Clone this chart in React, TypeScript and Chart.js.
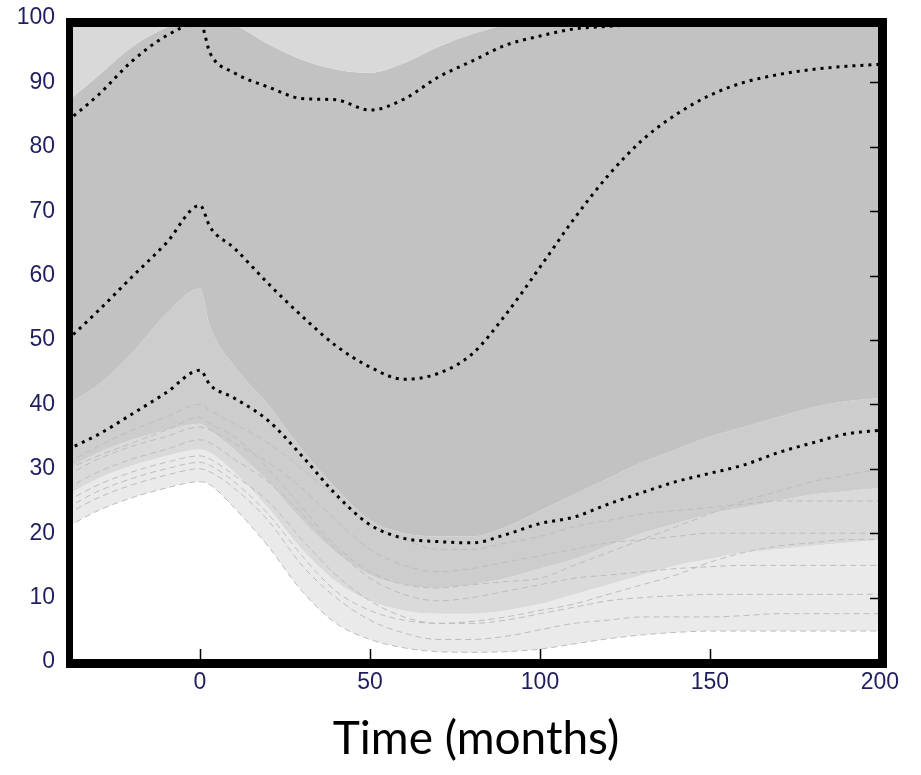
import React, { useEffect, useRef } from 'react';
import { Chart, registerables } from 'chart.js';

Chart.register(...registerables);

// ---- data ----
const xs = [-39, -30, -20, -10, 0, 3, 10, 20, 30, 40, 50, 60, 70, 80, 90, 100, 110, 120, 130, 140, 150, 160, 170, 180, 190, 200];

// black dotted percentile curves
const upperPct = [84, 88, 93.3, 97.2, 99.3, 94.5, 91.5, 89.3, 87.5, 87.3, 85.7, 87.4, 90.8, 93.3, 95.8, 97.2, 98.3, 98.7, 99, 99.2, 99.2, 99.2, 99.2, 99.2, 99.2, 99.2];
const midPct = [50, 54.5, 59.8, 65, 70.9, 67.5, 64.3, 58.8, 53.7, 49.1, 45.8, 43.9, 44.8, 47.8, 54, 61.3, 68.8, 75.5, 81, 85, 88, 90, 91.2, 92, 92.5, 92.8];
const lowPct = [33, 35.3, 38.5, 41.8, 45.3, 43, 41, 37.5, 32, 26, 21.3, 19.2, 18.7, 18.5, 19.8, 21.5, 22.5, 24.5, 26.3, 28, 29.3, 30.6, 32.5, 34, 35.4, 36];

// envelopes of the bundle of grey trajectories
const denseTop = [87, 91, 95.5, 98.5, 100, 100, 99, 96, 93.5, 92, 91.5, 93, 95.5, 97.5, 99, 100, 100, 100, 100, 100, 100, 100, 100, 100, 100, 100];
const denseBottom = [40, 43, 48, 54, 58, 52, 46, 40, 33, 27, 22, 20, 19.5, 19.5, 21, 23.5, 26, 28.5, 31, 33, 35, 36.5, 38, 39.5, 40.5, 41];
const medBottom = [30, 32.5, 34.5, 36, 37, 36, 33, 28, 22, 17, 13.5, 12, 11.5, 12, 13, 14.5, 16, 18, 20, 21.5, 23, 24, 25, 26, 26.5, 27];
const lightMid = [26, 28.5, 30.5, 32, 33, 32.5, 29.5, 24, 17.5, 12.5, 9.5, 8, 7.5, 7.5, 8, 9, 10.5, 12, 13.5, 15, 16, 17, 17.5, 18, 18.5, 19];

// individual sparse grey dashed trajectories
const sparse1 = [21, 23.5, 25.5, 27, 28, 27.5, 24, 18, 11, 6, 3.5, 2.2, 1.6, 1.5, 1.6, 2, 2.8, 3.6, 4.2, 4.6, 4.8, 4.8, 4.8, 4.8, 4.8, 4.8];
const sparse2 = [23, 25.5, 27.5, 29, 30, 29.5, 27, 22, 15, 10, 6.5, 4.5, 3.5, 3.5, 4, 5, 6, 6.5, 7, 7, 7, 7.2, 7.5, 7.5, 7.5, 7.5];
const sparse3 = [25, 27.5, 29.5, 31, 32, 31.5, 29, 25, 19, 13.5, 9.5, 7, 6, 6, 6.5, 7.5, 8.5, 9.5, 10, 10.3, 10.5, 10.5, 10.5, 10.5, 10.5, 10.5];
const sparse4 = [27, 29.5, 31.5, 33, 34.5, 34, 31.5, 28, 23, 17.5, 13, 10.5, 9.5, 10, 11, 12, 13, 13.5, 14, 14.5, 14.8, 15, 15, 15, 15, 15];
const sparse5 = [29, 31.5, 33.5, 35, 36.5, 36, 34, 31, 27, 22, 17.5, 15, 14, 14.5, 15.5, 16.5, 17.5, 18.5, 19, 19.5, 20, 20, 20, 20, 20, 20];
const sparse6 = [31, 33.5, 36, 38, 40, 39, 37, 34, 30, 25.5, 21.5, 19, 17.5, 17.5, 18.5, 19.5, 21, 22, 23, 23.5, 24, 24.5, 25, 25, 25, 25];
const sparse7 = [30, 32, 34, 36, 38, 37, 35, 30, 24, 18, 14, 12, 11.5, 12, 12.5, 13, 15, 17, 19, 21, 23, 25, 26.5, 28, 29, 30];
const sparse8 = [24, 26.5, 28.5, 30, 31, 30.5, 28, 23, 16.5, 11, 8, 6.5, 6, 6.3, 7, 8, 9, 10.5, 12, 13.5, 15.5, 17, 18, 18.5, 19, 19];

const xTickValues = [0, 50, 100, 150, 200];
const yTickValues = [0, 10, 20, 30, 40, 50, 60, 70, 80, 90, 100];
const xTitle = 'Time (months)';

const X_MIN = -38.24;
const X_MAX = 200.6;

const frame = {
  id: 'frame',
  afterDatasetsDraw(chart: any) {
    const { ctx, chartArea, scales } = chart;
    const { left, right, top, bottom } = chartArea;
    ctx.save();
    ctx.fillStyle = '#000';
    ctx.fillRect(left - 4, top, right + 5 - (left - 4), 9);
    ctx.fillRect(left - 4, bottom - 3, right + 5 - (left - 4), 9);
    ctx.fillRect(left - 4, top, 7, bottom + 6 - top);
    ctx.fillRect(right - 4, top, 9, bottom + 6 - top);
    ctx.strokeStyle = '#000';
    ctx.lineWidth = 1.5;
    ctx.beginPath();
    xTickValues.forEach((v) => {
      if (v >= X_MAX - 1) return;
      const px = Math.round(scales.x.getPixelForValue(v)) + 0.5;
      ctx.moveTo(px, bottom - 3);
      ctx.lineTo(px, bottom - 13);
    });
    yTickValues.forEach((v) => {
      if (v <= 0 || v >= 100) return;
      const py = Math.round(scales.y.getPixelForValue(v)) + 0.5;
      ctx.moveTo(right - 4, py);
      ctx.lineTo(right - 12, py);
    });
    ctx.stroke();
    ctx.restore();
  },
};

const tickFont = { family: "'Liberation Sans Narrow', 'Arial Narrow', 'Liberation Sans', Arial, sans-serif", size: 23 };

export default function App() {
  const ref = useRef<HTMLCanvasElement>(null);

  useEffect(() => {
    const canvas = ref.current;
    if (!canvas) return;
    const pts = (ys: number[]) => xs.map((x, i) => ({ x, y: ys[i] }));

    const band = (ys: number[], fill: any, color: string) => ({
      data: pts(ys),
      borderWidth: 0,
      borderColor: 'rgba(0,0,0,0)',
      backgroundColor: color,
      fill,
      pointRadius: 0,
      cubicInterpolationMode: 'monotone',
      order: 3,
    });
    const sparse = (ys: number[]) => ({
      data: pts(ys),
      borderWidth: 1,
      borderColor: '#bdbdbd',
      borderDash: [6, 4],
      fill: false,
      pointRadius: 0,
      cubicInterpolationMode: 'monotone',
      order: 2,
    });
    const pct = (ys: number[]) => ({
      data: pts(ys),
      borderWidth: 3,
      borderColor: '#000',
      borderDash: [3, 5],
      borderCapStyle: 'butt',
      fill: false,
      pointRadius: 0,
      cubicInterpolationMode: 'monotone',
      order: 0,
    });

    const chart = new Chart(canvas, {
      type: 'line',
      data: {
        datasets: [
          pct(upperPct),
          pct(midPct),
          pct(lowPct),
          sparse(sparse1),
          sparse(sparse2),
          sparse(sparse3),
          sparse(sparse4),
          sparse(sparse5),
          sparse(sparse6),
          sparse(sparse7),
          sparse(sparse8),
          band(denseTop, { value: 100 }, '#d9d9d9'),
          band(denseBottom, '-1', '#c2c2c2'),
          band(medBottom, '-1', '#cdcdcd'),
          band(lightMid, '-1', '#dadada'),
          band(sparse1, '-1', '#eaeaea'),
        ] as any,
      },
      options: {
        responsive: false,
        animation: false,
        events: [],
        layout: { padding: { top: 18, right: 39, bottom: 0, left: 0 } },
        plugins: {
          legend: { display: false },
          tooltip: { enabled: false },
          title: { display: false },
        },
        scales: {
          x: {
            type: 'linear',
            min: X_MIN,
            max: X_MAX,
            grid: { display: false, drawTicks: false },
            border: { display: false },
            afterBuildTicks: (s: any) => {
              s.ticks = xTickValues.map((v) => ({ value: v }));
            },
            afterFit: (s: any) => {
              s.height = 113;
              s.paddingLeft = 0;
              s.paddingRight = 0;
            },
            ticks: {
              autoSkip: false,
              maxRotation: 0,
              padding: 7,
              color: '#1f1f5f',
              font: tickFont,
              callback: (v: any) => String(v),
            },
            title: {
              display: true,
              text: xTitle,
              color: '#000',
              font: { family: "Lato, 'Open Sans', sans-serif", size: 46, weight: 'normal' },
              padding: { top: 0, bottom: 8 },
            },
          },
          y: {
            type: 'linear',
            min: 0,
            max: 100,
            grid: { display: false, drawTicks: false },
            border: { display: false },
            afterBuildTicks: (s: any) => {
              s.ticks = yTickValues.map((v) => ({ value: v }));
            },
            afterFit: (s: any) => {
              s.width = 70;
              s.paddingTop = 0;
              s.paddingBottom = 0;
            },
            ticks: {
              autoSkip: false,
              padding: 15,
              color: '#1f1f5f',
              font: tickFont,
              callback: (v: any) => String(v),
            },
          },
        },
      } as any,
      plugins: [frame],
    });

    return () => chart.destroy();
  }, []);

  return (
    <div style={{ position: 'absolute', left: 0, top: 0, width: 921, height: 775, background: '#fff' }}>
      <canvas ref={ref} width={921} height={775} style={{ display: 'block', width: 921, height: 775 }} />
    </div>
  );
}
